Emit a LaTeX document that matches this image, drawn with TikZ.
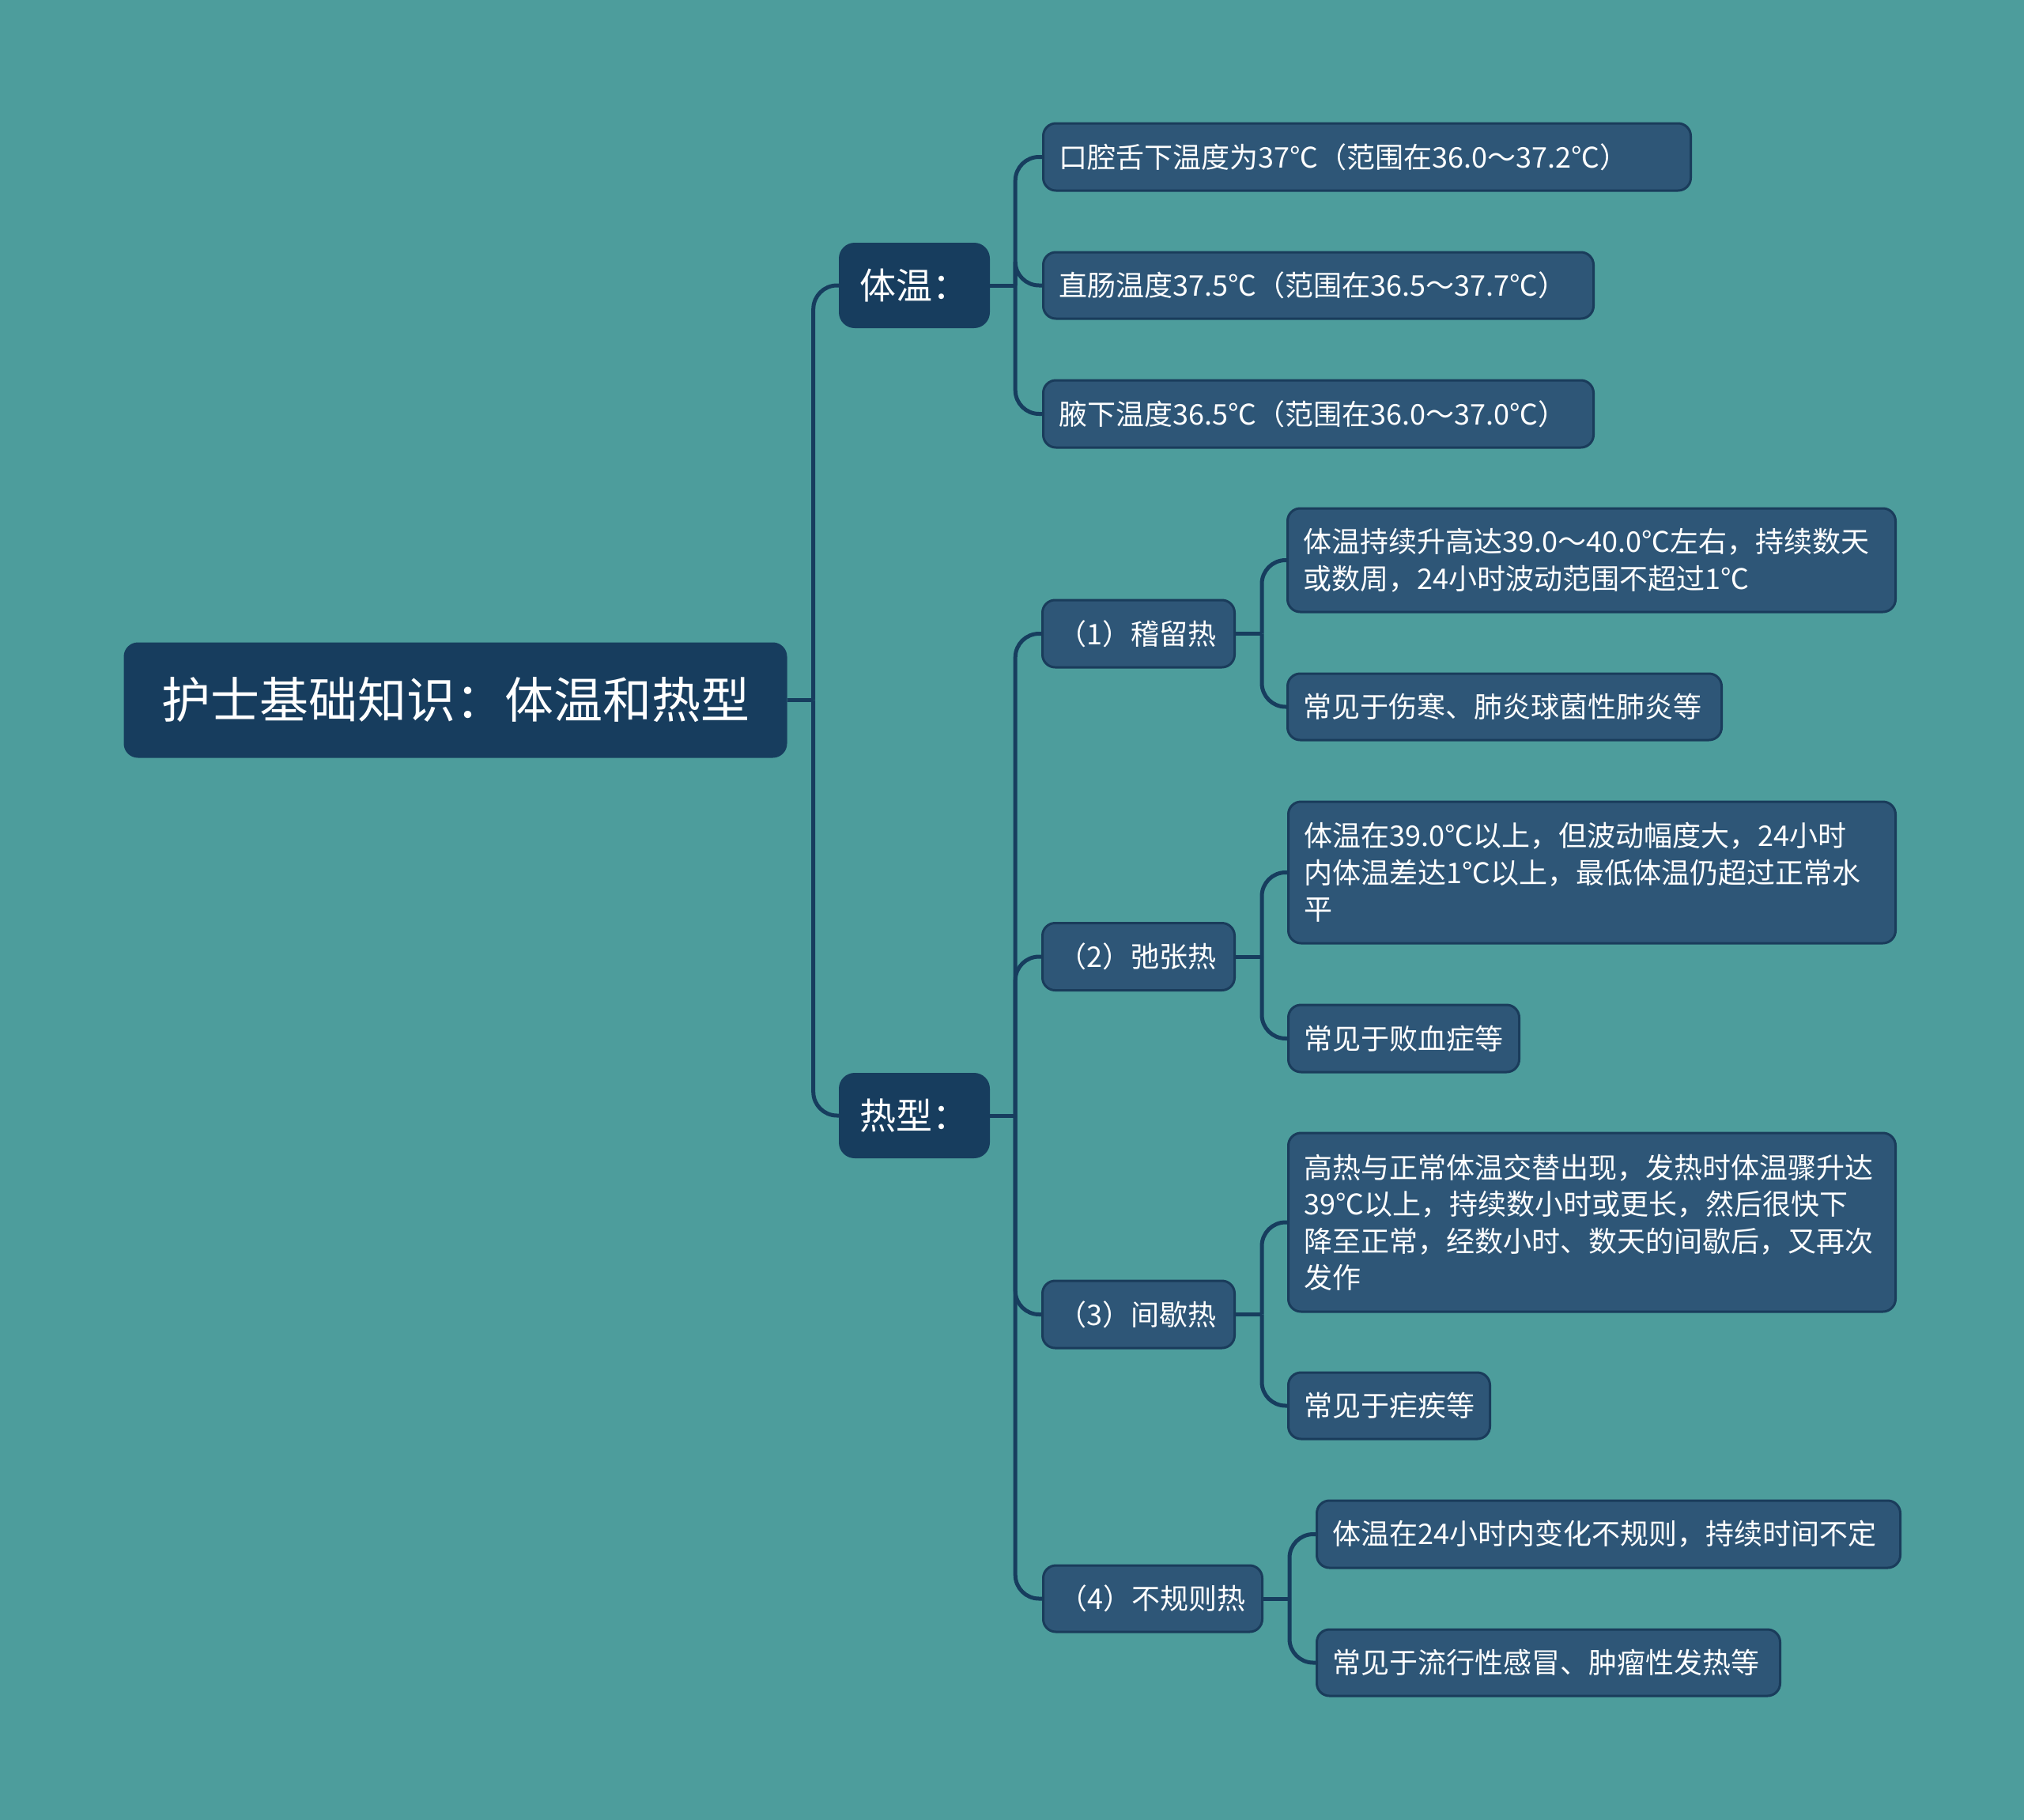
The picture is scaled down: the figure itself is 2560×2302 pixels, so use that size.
\documentclass[tikz,border=0pt]{standalone}
\usepackage{fontspec}
\setmainfont{Noto Sans CJK SC}
\usetikzlibrary{positioning}

\begin{document}
\begin{tikzpicture}[x=1pt, y=-1pt,
  topic/.style={rounded corners=18pt, fill=navy, text=white,
    font=\fontsize{62}{74}\selectfont, minimum width=839pt,
    minimum height=146pt, inner sep=0pt},
  major/.style={rounded corners=20pt, fill=navy, text=white,
    font=\fontsize{46}{56}\selectfont, text width=139pt, align=left,
    minimum height=108pt, inner xsep=26pt, inner ysep=0pt},
  leaf/.style={rounded corners=16pt, fill=boxfill, draw=boxline,
    line width=3pt, text=white, font=\fontsize{36}{46.5}\selectfont,
    align=left, inner xsep=20pt, inner ysep=0pt, anchor=west},
  branch/.style={draw=navy, line width=5pt},
  elbow/.style={branch, rounded corners=30pt}]
  \definecolor{bgteal}{RGB}{77,157,156}
  \definecolor{navy}{RGB}{23,61,94}
  \definecolor{boxfill}{RGB}{46,86,119}
  \definecolor{boxline}{RGB}{26,60,91}

  \fill[bgteal] (0,0) rectangle (2560,2302);
  \useasboundingbox (0,0) rectangle (2560,2302);

  % main topic and the two branches
  \node[topic] (root) at (576,885.5) {护士基础知识：体温和热型};
  \node[major] (tiwen) at (1156.5,361) {体温：};
  \node[major] (rexing) at (1156.5,1411) {热型：};

  % body temperature
  \node[leaf, text width=779pt, minimum height=85pt] (oral) at (1318,198.5)
       {口腔舌下温度为37℃（范围在36.0～37.2℃）};
  \node[leaf, text width=656pt, minimum height=84pt] (rectal) at (1318,361)
       {直肠温度37.5℃（范围在36.5～37.7℃）};
  \node[leaf, text width=656pt, minimum height=85pt] (axil) at (1318,523.5)
       {腋下温度36.5℃（范围在36.0～37.0℃）};

  % fever types
  \node[leaf, text width=203pt, minimum height=85pt] (jiliu) at (1317,801.5) {（1）稽留热};
  \node[leaf, text width=203pt, minimum height=85pt] (chizhang) at (1317,1210) {（2）弛张热};
  \node[leaf, text width=203pt, minimum height=85pt] (jianxie) at (1317,1662.5) {（3）间歇热};
  \node[leaf, text width=237pt, minimum height=84pt] (buguize) at (1318,2022) {（4）不规则热};

  \node[leaf, text width=729pt, minimum height=131pt] (jiliuA) at (1627,708.5)
       {体温持续升高达39.0～40.0℃左右，持续数天\\或数周，24小时波动范围不超过1℃};
  \node[leaf, text width=509pt, minimum height=84pt] (jiliuB) at (1627,894)
       {常见于伤寒、肺炎球菌性肺炎等};
  \node[leaf, text width=728pt, minimum height=179pt] (chizhangA) at (1628,1103.5)
       {体温在39.0℃以上，但波动幅度大，24小时\\内体温差达1℃以上，最低体温仍超过正常水\\平};
  \node[leaf, text width=252pt, minimum height=85pt] (chizhangB) at (1628,1313.5)
       {常见于败血症等};
  \node[leaf, text width=728pt, minimum height=226pt] (jianxieA) at (1628,1546)
       {高热与正常体温交替出现，发热时体温骤升达\\39℃以上，持续数小时或更长，然后很快下\\降至正常，经数小时、数天的间歇后，又再次\\发作};
  \node[leaf, text width=215pt, minimum height=84pt] (jianxieB) at (1628,1778)
       {常见于疟疾等};
  \node[leaf, text width=698pt, minimum height=85pt] (buguizeA) at (1664,1940.5)
       {体温在24小时内变化不规则，持续时间不定};
  \node[leaf, text width=546pt, minimum height=84pt] (buguizeB) at (1664,2103)
       {常见于流行性感冒、肿瘤性发热等};

  % connectors
  \coordinate[right=33pt of root] (hubroot);
  \coordinate[right=32pt of tiwen] (hubtiwen);
  \coordinate[right=32pt of rexing] (hubrexing);
  \coordinate[right=33pt of jiliu] (hubjiliu);
  \coordinate[right=33pt of chizhang] (hubchizhang);
  \coordinate[right=33pt of jianxie] (hubjianxie);
  \coordinate[right=33pt of buguize] (hubbuguize);

  \foreach \up/\kids in {root/{tiwen,rexing}, tiwen/{oral,rectal,axil},
      rexing/{jiliu,chizhang,jianxie,buguize}, jiliu/{jiliuA,jiliuB},
      chizhang/{chizhangA,chizhangB}, jianxie/{jianxieA,jianxieB},
      buguize/{buguizeA,buguizeB}} {
    \draw[branch] (\up.east) -- (hub\up);
    \foreach \kid in \kids
      \draw[elbow] (hub\up) |- (\kid.west);
  }
\end{tikzpicture}
\end{document}
